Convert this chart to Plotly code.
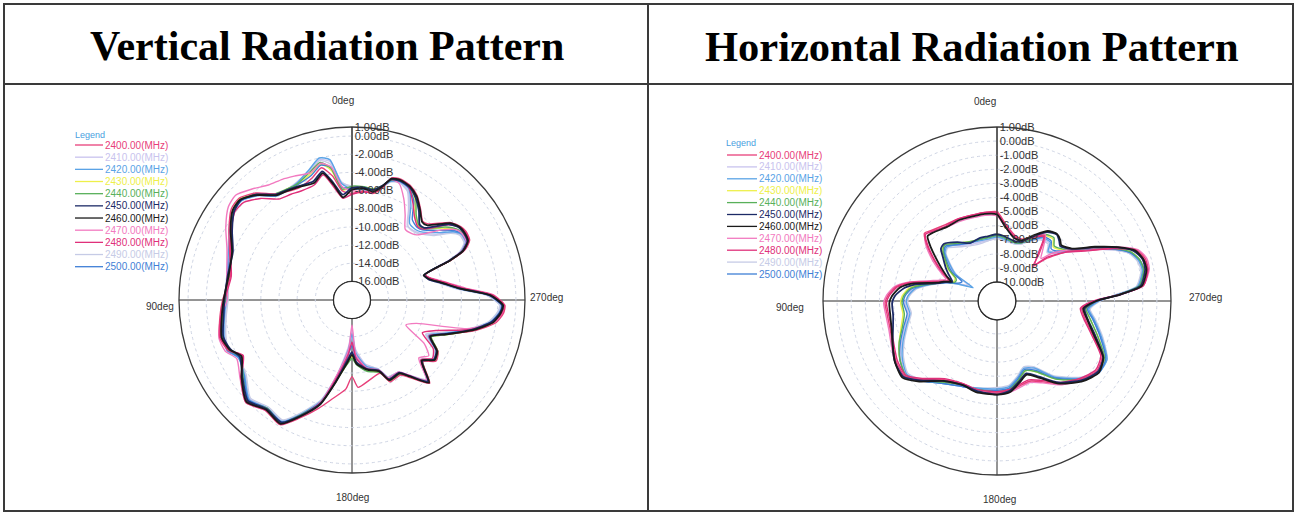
import plotly.graph_objects as go

W, H = 1297, 514

FREQS = ["2400", "2410", "2420", "2430", "2440", "2450", "2460", "2470", "2480", "2490", "2500"]
COLORS = {
    "2400": "#e8407a", "2410": "#c9c3ee", "2420": "#5aa3e6", "2430": "#eef04a",
    "2440": "#58b05a", "2450": "#1c2a66", "2460": "#1a1a1a", "2470": "#f27ac0",
    "2480": "#e0307a", "2490": "#c6cbe6", "2500": "#3f7fd6",
}
DRAW_ORDER = ["2410", "2490", "2430", "2420", "2500", "2440", "2470", "2400", "2480", "2450", "2460"]

# ---------------- Vertical pattern (dB) ----------------
V_ANG = [0, 5, 9, 13, 18, 25, 30, 36, 42, 48, 53, 60, 68, 79, 90, 97, 106, 112, 117, 125,
         134, 142, 150, 156, 163, 169, 176, 180, 184, 192, 201, 205, 213, 217, 223, 229, 234, 239, 245, 250,
         256, 261, 265, 268, 272, 276, 281, 285, 289, 292, 294, 297, 301, 304, 308, 315, 318, 323, 328, 333,
         338, 342, 345, 349, 354, 360]
V_TICKS = [1, 0, -2, -4, -6, -8, -10, -12, -14, -16]

V_2400 = [-6.3, -6.0, -4.2, -3.1, -3.9, -4.4, -4.2, -3.6, -2.2, -1.3, -1.4, -2.4, -3.5, -4.4, -3.8, -3.4, -2.9, -3.3, -4.5, -3.1,
          -1.8, -2.6, -2.2, -3.8, -5.6, -7.0, -8.2, -9.6, -8.4, -9.0, -9.4, -8.1, -8.2, -7.3, -5.5, -7.7, -6.6, -7.0, -8.7, -7.0,
          -4.1, -2.0, -1.3, -1.2, -2.5, -5.7, -7.7, -9.0, -9.5, -6.2, -4.4, -3.5, -3.4, -3.6, -4.2, -6.2, -6.4, -5.5, -4.5, -3.9,
          -3.7, -3.9, -5.3, -6.1, -6.0, -6.3]
V_2410 = [-5.6, -5.0, -2.6, -2.2, -3.0, -3.7, -3.9, -3.8, -2.5, -1.6, -1.7, -2.5, -3.3, -4.1, -4.3, -4.0, -3.5, -3.3, -4.1, -3.7,
          -2.4, -3.0, -2.7, -4.4, -6.5, -9.8, -13.0, -14.8, -12.6, -10.8, -9.9, -8.7, -8.6, -7.7, -6.0, -8.0, -7.0, -7.3, -9.0, -7.5,
          -4.7, -2.7, -1.9, -1.7, -3.1, -6.3, -8.2, -9.3, -9.7, -6.7, -5.0, -4.1, -4.1, -4.8, -6.3, -7.6, -7.8, -7.9, -6.3, -4.6,
          -4.1, -4.3, -5.1, -5.7, -5.7, -5.6]
V_2420 = [-5.8, -5.2, -2.4, -2.0, -2.9, -3.8, -4.0, -3.9, -2.6, -1.7, -1.8, -2.6, -3.4, -4.0, -4.2, -3.9, -3.4, -3.2, -4.0, -3.6,
          -2.3, -2.9, -2.6, -4.3, -6.4, -9.6, -12.6, -14.3, -12.2, -10.6, -9.8, -8.6, -8.5, -7.6, -5.9, -7.9, -6.9, -7.2, -8.8, -7.3,
          -4.6, -2.6, -1.8, -1.6, -3.0, -6.2, -8.1, -9.2, -9.6, -6.6, -4.9, -4.0, -4.0, -4.6, -6.0, -7.4, -7.6, -7.5, -5.8, -4.3,
          -4.0, -4.3, -5.2, -5.8, -5.8, -5.8]
V_2430 = [-5.6, -5.9, -3.6, -2.7, -3.4, -4.0, -3.9, -3.7, -2.4, -1.4, -1.6, -2.6, -3.6, -4.2, -4.0, -3.6, -3.1, -3.3, -4.2, -3.3,
          -2.0, -2.8, -2.4, -4.1, -6.1, -9.0, -11.1, -11.8, -11.0, -10.1, -9.5, -8.2, -8.3, -7.4, -5.6, -7.7, -6.7, -7.0, -8.4, -6.9,
          -4.2, -2.2, -1.5, -1.3, -2.7, -5.9, -7.9, -9.1, -9.5, -6.3, -4.6, -3.7, -3.8, -4.2, -5.2, -7.0, -7.1, -6.5, -5.0, -4.1,
          -3.9, -4.2, -5.0, -5.6, -5.6, -5.6]
V_2440 = [-5.5, -5.8, -3.4, -2.5, -3.2, -3.9, -3.9, -3.6, -2.3, -1.5, -1.7, -2.7, -3.7, -4.3, -4.1, -3.7, -3.2, -3.4, -4.3, -3.4,
          -2.0, -2.9, -2.4, -4.2, -6.2, -9.1, -11.0, -11.6, -10.9, -10.0, -9.5, -8.2, -8.3, -7.4, -5.7, -7.7, -6.7, -7.0, -8.4, -6.9,
          -4.2, -2.3, -1.6, -1.4, -2.7, -6.0, -7.9, -9.1, -9.6, -6.3, -4.6, -3.7, -3.8, -4.1, -5.0, -6.9, -7.0, -6.3, -4.8, -4.0,
          -3.9, -4.2, -5.0, -5.6, -5.5, -5.5]
V_2450 = [-5.7, -6.4, -5.0, -3.5, -4.3, -4.2, -4.0, -3.7, -2.4, -1.6, -1.8, -2.8, -3.9, -4.1, -4.0, -3.8, -3.3, -3.6, -4.2, -3.3,
          -2.1, -2.8, -2.5, -4.1, -6.1, -9.0, -11.5, -12.3, -11.2, -10.3, -9.7, -8.4, -8.5, -7.6, -5.8, -7.8, -6.9, -7.2, -8.6, -7.1,
          -4.5, -2.5, -1.7, -1.5, -2.9, -6.0, -8.1, -9.3, -9.6, -6.5, -4.7, -3.8, -3.7, -3.8, -4.5, -6.8, -6.9, -5.8, -4.8, -4.1,
          -3.9, -4.1, -5.0, -5.7, -5.6, -5.7]
V_2460 = [-5.9, -6.7, -5.2, -3.7, -4.5, -4.3, -4.1, -3.8, -2.5, -1.5, -1.6, -2.6, -3.8, -4.2, -3.9, -3.6, -3.1, -3.5, -4.4, -3.2,
          -1.9, -2.7, -2.3, -4.0, -6.0, -8.9, -11.2, -12.0, -11.0, -10.2, -9.6, -8.3, -8.4, -7.5, -5.6, -7.9, -6.8, -7.1, -8.5, -7.0,
          -4.3, -2.3, -1.6, -1.4, -2.8, -6.1, -8.0, -9.2, -9.7, -6.4, -4.6, -3.7, -3.6, -3.7, -4.3, -6.4, -6.5, -5.6, -4.6, -4.0,
          -3.8, -4.0, -5.1, -5.9, -5.7, -5.9]
V_2470 = [-6.0, -5.5, -3.2, -2.6, -3.3, -3.0, -2.7, -2.4, -1.6, -0.8, -1.0, -2.0, -3.2, -4.0, -4.3, -3.5, -2.8, -3.0, -3.8, -3.0,
          -1.8, -2.6, -2.3, -4.0, -6.3, -9.8, -12.5, -15.3, -12.0, -10.4, -9.8, -8.6, -8.6, -7.7, -6.0, -8.3, -7.6, -8.8, -11.5, -10.5,
          -5.0, -2.2, -1.4, -1.3, -2.4, -5.5, -7.6, -8.9, -9.6, -6.6, -4.8, -3.9, -3.9, -4.2, -5.5, -7.9, -8.2, -8.3, -7.0, -5.5,
          -4.2, -4.1, -5.0, -5.9, -6.0, -6.0]
V_2480 = [-6.4, -6.8, -5.5, -3.9, -4.7, -4.8, -4.6, -4.3, -3.0, -2.0, -1.9, -2.7, -3.6, -4.5, -4.0, -3.5, -3.0, -3.4, -4.6, -3.2,
          -2.0, -2.8, -2.3, -4.0, -6.2, -9.4, -12.0, -13.4, -11.6, -10.3, -9.7, -8.4, -8.5, -7.6, -5.7, -8.0, -7.1, -7.6, -9.5, -8.2,
          -4.6, -2.3, -1.5, -1.3, -2.6, -5.8, -7.8, -9.0, -9.5, -6.3, -4.5, -3.6, -3.5, -3.7, -4.6, -7.0, -7.2, -6.6, -5.4, -4.2,
          -3.8, -4.0, -5.2, -6.0, -6.1, -6.4]
V_2490 = [-5.5, -5.1, -2.9, -2.3, -3.1, -3.8, -3.9, -3.7, -2.4, -1.5, -1.6, -2.4, -3.4, -4.2, -4.4, -4.1, -3.6, -3.4, -4.0, -3.8,
          -2.5, -3.1, -2.8, -4.5, -6.6, -9.7, -12.7, -14.0, -12.3, -10.7, -9.9, -8.7, -8.6, -7.7, -6.1, -8.1, -7.1, -7.4, -9.1, -7.6,
          -4.8, -2.8, -2.0, -1.8, -3.2, -6.4, -8.3, -9.3, -9.7, -6.8, -5.1, -4.2, -4.2, -4.9, -6.5, -7.7, -7.9, -7.8, -6.1, -4.5,
          -4.1, -4.4, -5.2, -5.8, -5.7, -5.5]
V_2500 = [-5.7, -5.6, -3.3, -2.8, -3.6, -4.0, -4.0, -3.8, -2.5, -1.6, -1.8, -2.7, -3.6, -4.1, -4.1, -3.8, -3.3, -3.3, -4.1, -3.5,
          -2.2, -2.9, -2.5, -4.2, -6.3, -9.3, -12.0, -13.0, -11.7, -10.4, -9.7, -8.5, -8.5, -7.6, -5.8, -7.8, -6.8, -7.1, -8.6, -7.2,
          -4.5, -2.5, -1.7, -1.5, -2.9, -6.1, -8.0, -9.2, -9.6, -6.5, -4.8, -3.9, -3.9, -4.4, -5.6, -7.1, -7.3, -7.0, -5.2, -4.2,
          -3.9, -4.2, -5.1, -5.7, -5.7, -5.7]

# ---------------- Horizontal pattern (dB) ----------------
H_ANG = [0, 8, 15, 25, 34, 43, 47, 51, 57, 61, 64, 67, 70, 73, 78, 82, 87, 91, 98, 105,
         113, 121, 129, 136, 146, 158, 167, 180, 188, 195, 202, 209, 217, 227, 235, 242, 251, 259, 265, 270,
         273, 276, 282, 286, 290, 294, 299, 305, 311, 314, 318, 324, 330, 338, 345, 354, 360]
H_TICKS = [1, 0, -1, -2, -3, -4, -5, -6, -7, -8, -9, -10]

H_2400 = [-5.0, -5.0, -5.0, -4.9, -4.8, -4.5, -4.3, -4.9, -6.0, -6.7, -7.2, -7.6, -7.2, -6.6, -5.0, -4.1, -3.6, -3.4, -3.5, -3.5,
          -3.3, -3.0, -2.9, -3.6, -4.6, -5.0, -4.8, -4.8, -4.9, -5.1, -5.2, -4.8, -4.0, -3.2, -2.7, -2.9, -4.2, -5.0, -5.3, -4.4,
          -2.6, -0.9, -0.4, -0.4, -0.8, -2.1, -3.9, -5.2, -6.8, -7.8, -6.9, -5.6, -6.0, -6.6, -6.5, -5.8, -5.0]
H_2410 = [-6.9, -7.0, -7.0, -6.9, -6.6, -6.0, -6.2, -6.8, -7.6, -9.0, -8.7, -8.1, -7.4, -6.9, -6.0, -5.3, -5.0, -4.8, -5.0, -4.6,
          -4.0, -3.4, -3.1, -3.5, -4.3, -4.8, -4.9, -5.0, -5.1, -5.6, -6.1, -5.8, -4.5, -3.2, -2.5, -2.6, -3.6, -4.4, -4.9, -4.2,
          -2.8, -1.3, -0.8, -0.9, -1.4, -2.4, -3.8, -5.2, -6.0, -6.2, -5.8, -5.9, -6.3, -7.0, -7.1, -7.0, -6.9]
H_2420 = [-6.8, -6.9, -6.9, -6.8, -6.5, -6.1, -6.3, -6.9, -7.8, -9.4, -8.9, -8.2, -7.5, -7.0, -6.1, -5.4, -5.0, -4.9, -5.1, -4.7,
          -4.1, -3.5, -3.1, -3.5, -4.3, -4.8, -5.0, -5.1, -5.2, -5.7, -6.2, -5.9, -4.6, -3.3, -2.5, -2.5, -3.5, -4.3, -4.8, -4.1,
          -2.8, -1.3, -0.8, -0.9, -1.3, -2.3, -3.7, -5.2, -6.1, -6.3, -5.7, -5.8, -6.3, -6.9, -7.0, -6.9, -6.8]
H_2430 = [-6.6, -6.7, -6.8, -6.7, -6.4, -5.9, -6.0, -6.5, -7.2, -7.9, -8.0, -7.9, -7.3, -6.9, -5.8, -5.0, -4.6, -4.5, -4.6, -4.3,
          -3.8, -3.3, -3.0, -3.5, -4.4, -4.9, -4.9, -4.9, -5.0, -5.5, -6.0, -5.6, -4.4, -3.2, -2.6, -2.7, -3.8, -4.6, -5.0, -4.3,
          -2.7, -1.2, -0.7, -0.8, -1.2, -2.2, -3.6, -5.0, -5.7, -5.8, -5.4, -5.6, -6.2, -6.9, -7.0, -6.7, -6.6]
H_2440 = [-6.7, -6.8, -6.8, -6.7, -6.4, -5.9, -6.1, -6.6, -7.3, -8.0, -8.1, -8.0, -7.4, -7.0, -5.9, -5.1, -4.7, -4.6, -4.7, -4.4,
          -3.8, -3.3, -3.0, -3.5, -4.4, -4.9, -4.9, -4.9, -5.0, -5.5, -6.0, -5.6, -4.4, -3.2, -2.6, -2.7, -3.8, -4.6, -5.0, -4.3,
          -2.7, -1.2, -0.7, -0.8, -1.2, -2.2, -3.6, -5.0, -5.6, -5.7, -5.3, -5.5, -6.2, -6.9, -7.0, -6.8, -6.7]
H_2450 = [-6.6, -6.7, -6.7, -6.8, -6.3, -5.8, -5.9, -6.4, -7.0, -7.4, -7.7, -7.9, -7.4, -7.0, -5.6, -4.7, -4.1, -3.9, -3.9, -3.7,
          -3.3, -2.9, -2.8, -3.5, -4.5, -4.9, -4.8, -4.7, -4.9, -5.4, -5.8, -5.2, -4.1, -3.1, -2.6, -2.8, -4.0, -4.8, -5.1, -4.3,
          -2.6, -1.1, -0.6, -0.6, -1.0, -2.0, -3.5, -4.9, -5.4, -5.2, -5.0, -5.3, -6.0, -6.8, -6.9, -6.7, -6.6]
H_2460 = [-5.2, -5.1, -5.1, -5.0, -5.0, -4.7, -4.6, -5.3, -6.4, -7.0, -7.4, -7.8, -7.3, -6.9, -5.3, -4.4, -3.9, -3.7, -3.7, -3.6,
          -3.3, -2.9, -2.7, -3.4, -4.5, -4.9, -4.7, -4.7, -4.8, -5.3, -5.7, -5.1, -4.0, -3.0, -2.5, -2.8, -4.1, -4.85, -5.2, -4.3,
          -2.6, -1.0, -0.5, -0.55, -0.9, -1.95, -3.4, -4.85, -5.3, -5.1, -4.95, -5.2, -5.9, -6.7, -6.7, -6.0, -5.2]
H_2470 = [-5.3, -5.2, -5.2, -5.1, -5.0, -4.6, -4.4, -4.8, -5.8, -6.5, -7.0, -7.4, -7.0, -6.4, -4.9, -4.0, -3.5, -3.3, -3.4, -3.4,
          -3.2, -2.9, -2.8, -3.5, -4.5, -4.9, -4.8, -4.8, -4.8, -5.0, -5.1, -4.7, -3.9, -3.1, -2.6, -2.8, -4.0, -4.9, -5.2, -4.3,
          -2.5, -0.9, -0.3, -0.3, -0.7, -1.9, -3.6, -5.0, -6.2, -7.0, -6.5, -5.5, -6.0, -6.8, -6.6, -6.0, -5.3]
H_2480 = [-5.1, -5.0, -5.0, -4.9, -4.9, -4.6, -4.4, -5.0, -6.1, -6.8, -7.3, -7.7, -7.3, -6.7, -5.1, -4.2, -3.7, -3.5, -3.6, -3.6,
          -3.4, -3.1, -3.0, -3.7, -4.7, -5.0, -4.9, -4.9, -5.0, -5.2, -5.3, -4.9, -4.1, -3.3, -2.8, -3.0, -4.3, -5.1, -5.4, -4.5,
          -2.7, -0.9, -0.4, -0.5, -0.9, -2.2, -4.0, -5.3, -6.6, -7.6, -7.1, -5.7, -6.1, -6.7, -6.6, -5.9, -5.1]
H_2490 = [-6.9, -7.0, -7.1, -7.0, -6.7, -6.2, -6.4, -7.0, -7.9, -9.2, -8.8, -8.2, -7.6, -7.1, -6.2, -5.5, -5.1, -5.0, -5.2, -4.8,
          -4.2, -3.6, -3.2, -3.6, -4.4, -4.8, -5.0, -5.2, -5.3, -5.8, -6.3, -6.0, -4.7, -3.4, -2.6, -2.5, -3.4, -4.2, -4.7, -4.0,
          -2.9, -1.4, -0.9, -1.0, -1.4, -2.4, -3.8, -5.3, -6.2, -6.4, -5.9, -6.0, -6.4, -7.0, -7.1, -7.0, -6.9]
H_2500 = [-6.7, -6.8, -6.8, -6.8, -6.5, -6.0, -6.2, -6.7, -7.5, -8.5, -8.4, -8.1, -7.5, -7.0, -6.0, -5.2, -4.8, -4.7, -4.9, -4.5,
          -3.9, -3.3, -3.0, -3.5, -4.3, -4.8, -4.9, -5.0, -5.1, -5.6, -6.1, -5.7, -4.5, -3.2, -2.5, -2.6, -3.6, -4.4, -4.9, -4.2,
          -2.7, -1.2, -0.7, -0.8, -1.3, -2.3, -3.7, -5.1, -5.9, -6.0, -5.6, -5.7, -6.3, -6.9, -7.0, -6.8, -6.7]

V_DATA = {"2400": V_2400, "2410": V_2410, "2420": V_2420, "2430": V_2430, "2440": V_2440, "2450": V_2450,
          "2460": V_2460, "2470": V_2470, "2480": V_2480, "2490": V_2490, "2500": V_2500}
H_DATA = {"2400": H_2400, "2410": H_2410, "2420": H_2420, "2430": H_2430, "2440": H_2440, "2450": H_2450,
          "2460": H_2460, "2470": H_2470, "2480": H_2480, "2490": H_2490, "2500": H_2500}

TITLES = ["Vertical Radiation Pattern", "Horizontal Radiation Pattern"]
ANG_TICKS = [0, 90, 180, 270]
ANG_TEXT = ["0deg", "90deg", "180deg", "270deg"]

def px(x):
    return x / W

def py(y):
    return 1 - y / H

fig = go.Figure()

for f in DRAW_ORDER:
    wid = 1.8 if f in ("2450", "2460") else 1.4
    fig.add_trace(go.Scatterpolar(r=V_DATA[f], theta=V_ANG, mode="lines", subplot="polar",
                                  line=dict(color=COLORS[f], width=wid, shape="spline", smoothing=0.6),
                                  showlegend=False, name=f))
    fig.add_trace(go.Scatterpolar(r=H_DATA[f], theta=H_ANG, mode="lines", subplot="polar2",
                                  line=dict(color=COLORS[f], width=wid, shape="spline", smoothing=0.6),
                                  showlegend=False, name=f))

# plot geometry (pixels)
GEOM = [dict(cx=352, cy=300, R=173, hole=18.5), dict(cx=997, cy=301, R=174, hole=18.8)]
# angular label positions (pixels) for 0, 90, 180, 270 deg
ANG_POS = [[(343, 101), (160, 306), (352, 497), (546, 297)],
           [(985, 102), (790, 307), (1000, 499), (1205, 297)]]

def polar_layout(g, ticks):
    return dict(
        domain=dict(x=[px(g["cx"] - g["R"]), px(g["cx"] + g["R"])],
                    y=[py(g["cy"] + g["R"]), py(g["cy"] - g["R"])]),
        hole=g["hole"] / g["R"],
        bgcolor="white",
        angularaxis=dict(rotation=90, direction="counterclockwise",
                         tickmode="array", tickvals=ANG_TICKS, ticktext=ANG_TEXT,
                         showticklabels=False, ticks="",
                         showline=True, linecolor="#3a3a3a", linewidth=1.3,
                         showgrid=True, gridcolor="#2a2a2a", gridwidth=1),
        radialaxis=dict(range=[min(ticks), max(ticks)], tickmode="array", tickvals=ticks,
                        ticktext=[("%.2fdB" % t) for t in ticks],
                        showline=True, linecolor="#2a2a2a", linewidth=1,
                        showgrid=True, gridcolor="#cfd5e4", griddash="dot", gridwidth=1,
                        ticks="", side="clockwise", angle=90, tickangle=90,
                        tickfont=dict(family="Liberation Sans Narrow, Liberation Sans", size=11, color="#333")),
    )

shapes = []
annotations = []

# table frame
LC = "#3a3a3a"
shapes.append(dict(type="rect", xref="paper", yref="paper", x0=px(4), x1=px(1293), y0=py(511), y1=py(4),
                   line=dict(color=LC, width=2)))
shapes.append(dict(type="line", xref="paper", yref="paper", x0=px(4), x1=px(1293), y0=py(84), y1=py(84),
                   line=dict(color=LC, width=2)))
shapes.append(dict(type="line", xref="paper", yref="paper", x0=px(648), x1=px(648), y0=py(511), y1=py(4),
                   line=dict(color=LC, width=2)))

for t, xc, fs in zip(TITLES, [327, 972], [42, 42.5]):
    annotations.append(dict(text=t, x=px(xc), y=py(46), xref="paper", yref="paper", showarrow=False,
                            xanchor="center", yanchor="middle",
                            font=dict(family="Liberation Serif", size=fs, color="black", weight="bold")))

# angular labels
for pos in ANG_POS:
    for (x, y), txt in zip(pos, ANG_TEXT):
        annotations.append(dict(text=txt, x=px(x), y=py(y), xref="paper", yref="paper", showarrow=False,
                                xanchor="center", yanchor="middle",
                                font=dict(family="Liberation Sans", size=10, color="#333")))

# hole outlines
for g in GEOM:
    shapes.append(dict(type="circle", xref="paper", yref="paper",
                       x0=px(g["cx"] - g["hole"]), x1=px(g["cx"] + g["hole"]),
                       y0=py(g["cy"] + g["hole"]), y1=py(g["cy"] - g["hole"]),
                       line=dict(color="#2a2a2a", width=1.2), fillcolor="white"))

# legends (drawn as decoration)
LEG = [dict(x0=75, x1=103, y0=145, dy=12.17, ty=135, tx=73), dict(x0=727, x1=757, y0=155, dy=11.9, ty=143, tx=724)]
for lg in LEG:
    annotations.append(dict(text="Legend", x=px(lg["tx"]), y=py(lg["ty"]), xref="paper", yref="paper",
                            showarrow=False, xanchor="left", yanchor="middle",
                            font=dict(family="Liberation Sans", size=9, color="#4aa0e0")))
    for i, f in enumerate(FREQS):
        yy = lg["y0"] + i * lg["dy"]
        shapes.append(dict(type="line", xref="paper", yref="paper", x0=px(lg["x0"]), x1=px(lg["x1"]),
                           y0=py(yy), y1=py(yy), line=dict(color=COLORS[f], width=1.3)))
        annotations.append(dict(text=f + ".00(MHz)", x=px(lg["x1"]), y=py(yy), xref="paper", yref="paper",
                                showarrow=False, xanchor="left", yanchor="middle",
                                font=dict(family="Liberation Sans", size=10, color=COLORS[f])))

fig.update_layout(
    width=W, height=H, margin=dict(l=0, r=0, t=0, b=0),
    paper_bgcolor="white", plot_bgcolor="white",
    polar=polar_layout(GEOM[0], V_TICKS),
    polar2=polar_layout(GEOM[1], H_TICKS),
    shapes=shapes, annotations=annotations, showlegend=False,
)

fig.write_html("out.html", config={"displayModeBar": False},
               post_script="document.body.style.margin='0px';document.body.style.overflow='hidden';")
